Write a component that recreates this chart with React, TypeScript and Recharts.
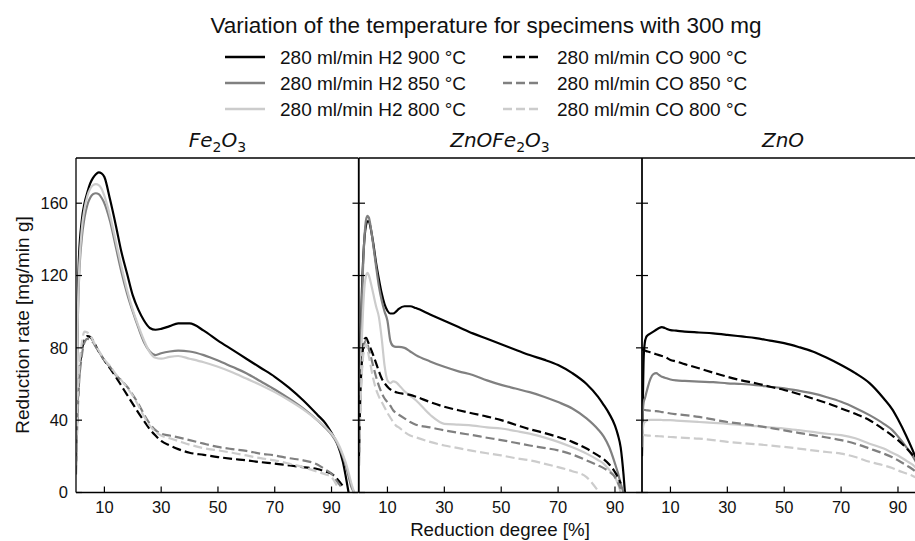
import { LineChart, Line, XAxis, YAxis } from "recharts";

const TITLE = "Variation of the temperature for specimens with 300 mg";
const X_LABEL = "Reduction degree [%]";
const Y_LABEL = "Reduction rate [mg/min g]";
const X_TICKS = [10, 30, 50, 70, 90];
const Y_TICKS = [0, 40, 80, 120, 160];
const X_DOMAIN = [0, 99.5];
const Y_DOMAIN = [0, 185];

const SERIES_KEYS = ["h900", "h850", "h800", "c900", "c850", "c800"];
const SERIES_NAMES = [
  "280 ml/min H2 900 °C",
  "280 ml/min H2 850 °C",
  "280 ml/min H2 800 °C",
  "280 ml/min CO 900 °C",
  "280 ml/min CO 850 °C",
  "280 ml/min CO 800 °C",
];

// panel titles, odd entries are subscripts
const PANEL_TITLES = [["Fe", "2", "O", "3"], ["ZnOFe", "2", "O", "3"], ["ZnO"]];

// ---- Fe2O3 ----
const FE_X = [
  0, 0.5, 1, 2, 3, 4, 5, 6, 7, 8,
  9, 10, 12, 14, 16, 18, 20, 22, 24, 26,
  28, 30, 33, 36, 40, 45, 50, 55, 60, 65,
  70, 75, 80, 85, 88, 90, 92, 94, 95, 96,
  97, 98,
];
const FE_H2_900 = [
  30, 95, 128, 150, 160, 166, 171, 174, 176, 177,
  176.5, 174.5, 162, 148, 133, 121, 109, 101, 95, 91,
  90, 90.5, 92, 93.5, 93.5, 89.5, 84, 79, 74, 69,
  64, 58, 51, 43, 38, 33, 27, 17, 9, 0,
  null, null,
];
const FE_H2_850 = [
  25, 85, 115, 140, 152, 159, 163, 165, 165.5, 165,
  163, 160, 150, 136, 122, 110, 100, 91, 83, 78,
  76, 77, 78, 78.5, 78, 76, 73, 69.5, 66, 61.5,
  57, 52, 46.5, 40, 35.5, 32, 27, 20, 15, 9,
  3, 0,
];
const FE_H2_800 = [
  25, 88, 118, 145, 157, 164, 168, 170, 170.5, 170,
  168, 164, 153, 139, 125, 112, 101, 92, 84, 77.5,
  74.5, 74, 75, 75.5, 74, 72, 69.5, 66.5, 63, 59.5,
  55.5, 51, 46, 40, 36, 32.5, 28, 21, 16.5, 11,
  5, 0,
];
const FE_CO_900 = [
  15, 45, 62, 78, 84.5, 86.5, 86, 84, 81, 78,
  75.5, 73, 68.7, 64, 59, 54, 49, 44, 39.5, 35,
  31.5, 28.5, 26, 24, 22, 20.8, 19.6, 18.6, 17.8, 16.8,
  16, 15, 14, 13, 11.5, 10.4, 7.5, 3.5, null, null,
  null, null,
];
const FE_CO_850 = [
  10, 40, 58, 75, 83, 85, 84.5, 83, 80.5, 78,
  75.5, 73, 69.5, 65, 62, 58.5, 54, 49, 43, 38,
  34.5, 32.5, 31.5, 30.5, 29, 27, 25.2, 24, 23, 21.5,
  20.5, 19, 17.8, 15.5, 12.5, 10.4, 6, 2, null, null,
  null, null,
];
const FE_CO_800 = [
  15, 48, 66, 82, 89, 88.5, 87, 84, 81, 78.5,
  76, 73.5, 70, 65.5, 62, 58, 53.5, 48, 42, 37,
  33.5, 31.5, 30, 28.5, 26.5, 24.5, 23.3, 22, 20.5, 19,
  17.8, 16, 14, 11.5, 10, 8.5, 3.5, null, null, null,
  null, null,
];

// ---- ZnOFe2O3 ----
const MID_X = [
  0, 0.5, 1, 1.5, 2, 2.5, 3, 3.5, 4, 5,
  6, 7, 8, 9, 10, 11, 12, 13, 14, 16,
  18, 20, 25, 30, 35, 40, 45, 50, 55, 60,
  65, 70, 75, 80, 84, 86, 88, 90, 91, 92,
  93, 93.5,
];
const MID_H2_900 = [
  30, 80, 110, 130, 142, 148, 150, 150, 147, 138,
  127, 118, 110, 104, 100.5, 99, 99, 100, 101.5, 103,
  103, 102, 98.5, 95, 91.5, 88, 85, 82, 79, 76,
  73.5, 70.5, 66, 60, 53, 48.5, 43.5, 37, 32, 25,
  10, 0,
];
const MID_H2_850 = [
  25, 75, 105, 128, 143, 151, 153, 152, 148, 137,
  125, 114, 106, 100, 95, 84, 81, 80.5, 80.5, 80,
  78, 76, 72.5, 69.5, 67, 65, 62, 59.5, 57.5, 55.5,
  53, 50, 46.5, 41, 35, 31, 25, 16, 11, 5,
  0, null,
];
const MID_H2_800 = [
  20, 60, 85, 103, 115, 120, 121.5, 120, 117, 110,
  103, 97, 85, 70, 62, 60.5, 61.5, 61, 59.5, 56,
  53.5, 51, 43, 38, 37.5, 37, 36, 35.4, 34, 32.6,
  30.5, 28, 25, 21.5, 18, 16, 12.5, 8.5, 5, 0,
  null, null,
];
const MID_CO_900 = [
  20, 55, 72, 81, 85, 85.5, 84, 82, 80, 76,
  71.5, 67, 63, 60.5, 58.5, 57, 56, 55.5, 55, 54.5,
  54, 53, 50, 47.4, 45.5, 43.7, 42, 40, 37.5, 35,
  33, 30.7, 28, 24.3, 20.5, 18.5, 15.5, 11.3, 8.5, 5,
  null, null,
];
const MID_CO_850 = [
  15, 50, 68, 78, 83, 84, 82, 79, 76, 70,
  64, 59, 55, 52, 50, 48, 45.5, 44, 43, 41,
  39, 37.5, 36, 34.4, 33, 31.7, 30.3, 29, 27.5, 26,
  24.7, 23.3, 21, 17.8, 15, 13.5, 11.5, 8.5, 5.5, 2,
  null, null,
];
const MID_CO_800 = [
  15, 48, 66, 76, 81, 82, 79, 75, 71, 63,
  57, 53, 50, 47, 44, 41.5, 39, 37, 36, 33.5,
  31.5, 30.5, 28, 26, 24.5, 23, 21.7, 20.5, 19, 17.8,
  16, 14, 11.8, 8.5, 1, null, null, null, null, null,
  null, null,
];

// ---- ZnO ----
const ZNO_X = [
  0, 0.3, 0.6, 1, 1.5, 2, 3, 4, 5, 6,
  7, 8, 10, 12, 15, 20, 25, 30, 35, 40,
  45, 50, 55, 60, 65, 70, 75, 80, 85, 88,
  90, 93, 95, 98,
];
const ZNO_H2_900 = [
  20, 50, 75, 83, 86, 87, 88, 89, 90, 91,
  91.5, 91, 89.8, 89.5, 89, 88.5, 88, 87.2, 86.3, 85.4,
  84, 82.6, 80.5, 78, 74.5, 70.5, 66, 60.5, 52, 46,
  40.5, 31, 24, 12,
];
const ZNO_H2_850 = [
  30, 45, 50, 52, 55, 58, 63, 65.5, 66, 65,
  64, 63.5, 62.5, 62, 61.7, 61.3, 61, 60.4, 60, 59.4,
  58.5, 57.6, 56.3, 54.8, 52.7, 50.2, 46.8, 42.8, 38, 34.5,
  31, 25, 20.5, 12,
];
const ZNO_H2_800 = [
  25, 35, 38, 39, 39.5, 40, 40.2, 40.2, 40.2, 40.2,
  40.1, 40, 40, 39.8, 39.5, 39, 38.5, 38, 37.3, 36.7,
  36, 35.4, 34.5, 33.5, 32.5, 31.7, 30, 27, 24.3, 22,
  20.5, 17.5, 15.5, 11,
];
const ZNO_CO_900 = [
  79, 79, 78.8, 78.5, 78.2, 78, 77.5, 77, 76.5, 76,
  75.5, 75, 73.3, 72.5, 71, 68.7, 66.3, 64, 62, 60.4,
  58.5, 56.7, 54.5, 52, 49.5, 46.5, 43.5, 40, 34.8, 31.5,
  29, 24.5, 21, 15,
];
const ZNO_CO_850 = [
  46, 46, 45.8, 45.6, 45.5, 45.4, 45.2, 45, 45, 44.8,
  44.5, 44.3, 43.7, 43.3, 42.8, 41.8, 40.4, 39, 38, 37,
  35.7, 34.4, 33, 31.7, 30.4, 29, 27, 24.3, 21.5, 19.5,
  17.8, 15, 13, 9,
];
const ZNO_CO_800 = [
  32, 32, 31.9, 31.7, 31.6, 31.5, 31.4, 31.3, 31.2, 31.1,
  31, 30.9, 30.7, 30.5, 30.2, 29.8, 29, 28, 27.3, 26.7,
  26, 25.2, 24.3, 23.3, 22.4, 21.5, 19.6, 17, 15, 13.5,
  12.2, 10.5, 9.3, 7,
];

function buildRows(xs: number[], cols: (number | null)[][]) {
  return xs.map((x, i) => {
    const row: Record<string, number | null> = { x };
    SERIES_KEYS.forEach((k, j) => {
      row[k] = cols[j][i] ?? null;
    });
    return row;
  });
}

const PANELS = [
  buildRows(FE_X, [FE_H2_900, FE_H2_850, FE_H2_800, FE_CO_900, FE_CO_850, FE_CO_800]),
  buildRows(MID_X, [MID_H2_900, MID_H2_850, MID_H2_800, MID_CO_900, MID_CO_850, MID_CO_800]),
  buildRows(ZNO_X, [ZNO_H2_900, ZNO_H2_850, ZNO_H2_800, ZNO_CO_900, ZNO_CO_850, ZNO_CO_800]),
];

const COLORS = ["#000000", "#808080", "#cccccc", "#000000", "#808080", "#cccccc"];
const DASH = "9 4";
const FONT = "'Liberation Sans', Arial, sans-serif";
const SPINE = { stroke: "#000", strokeWidth: 1.3 };

// layout
const CHART_TOP = 150;
const TOP_AXIS_H = 8;
const PLOT_H = 334.5;
const CHART_H = 541 - CHART_TOP;
const XAXIS_H = CHART_H - TOP_AXIS_H - PLOT_H;
const PLOT_W = 283;
const PLOT_LEFTS = [76, 358.5, 641.5];
const RIGHT_AXIS_W = 8;

function BottomTick(props: any) {
  const { x, y, payload } = props;
  return (
    <g>
      <line x1={x} x2={x} y1={y} y2={y - 6} stroke="#000" strokeWidth={1.2} />
      <text x={x} y={y + 20.5} textAnchor="middle" fontSize={16.5} fontFamily={FONT} fill="#111">
        {payload.value}
      </text>
    </g>
  );
}

function LeftTick(props: any) {
  const { x, y, payload, withLabel } = props;
  return (
    <g>
      <line x1={x} x2={x + 6} y1={y} y2={y} stroke="#000" strokeWidth={1.2} />
      {withLabel && (
        <text x={x - 8} y={y} dy="0.36em" textAnchor="end" fontSize={16.5} fontFamily={FONT} fill="#111">
          {payload.value}
        </text>
      )}
    </g>
  );
}

function RightTick(props: any) {
  const { x, y } = props;
  return <line x1={x} x2={x - 6} y1={y} y2={y} stroke="#000" strokeWidth={1.2} />;
}

function Panel({ index }: { index: number }) {
  const first = index === 0;
  const yw = first ? 76 : 8;
  const plotW = first ? 282.5 : PLOT_W;
  const width = yw + plotW + RIGHT_AXIS_W;
  const left = PLOT_LEFTS[index] - yw;
  return (
    <div style={{ position: "absolute", left, top: CHART_TOP }}>
      <LineChart
        width={width}
        height={CHART_H}
        data={PANELS[index]}
        margin={{ top: 0, right: 0, bottom: 0, left: 0 }}
      >
        <XAxis
          xAxisId="b"
          dataKey="x"
          type="number"
          domain={X_DOMAIN}
          ticks={X_TICKS}
          interval={0}
          allowDataOverflow
          height={XAXIS_H}
          tickSize={0}
          tickMargin={0}
          tickLine={false}
          axisLine={SPINE}
          tick={(p: any) => <BottomTick {...p} />}
        />
        <XAxis
          xAxisId="t"
          orientation="top"
          dataKey="x"
          type="number"
          domain={X_DOMAIN}
          ticks={X_TICKS}
          allowDataOverflow
          height={TOP_AXIS_H}
          tick={false}
          tickLine={false}
          axisLine={SPINE}
        />
        <YAxis
          yAxisId="l"
          type="number"
          domain={Y_DOMAIN}
          ticks={Y_TICKS}
          interval={0}
          allowDataOverflow
          width={yw}
          tickSize={0}
          tickMargin={0}
          tickLine={false}
          axisLine={SPINE}
          tick={(p: any) => <LeftTick {...p} withLabel={first} />}
        />
        <YAxis
          yAxisId="r"
          orientation="right"
          type="number"
          domain={Y_DOMAIN}
          ticks={Y_TICKS}
          interval={0}
          allowDataOverflow
          width={RIGHT_AXIS_W}
          tickSize={0}
          tickMargin={0}
          tickLine={false}
          axisLine={SPINE}
          tick={(p: any) => <RightTick {...p} />}
        />
        {SERIES_KEYS.map((k, i) => (
          <Line
            key={k}
            xAxisId="b"
            yAxisId="l"
            dataKey={k}
            name={SERIES_NAMES[i]}
            type="monotone"
            stroke={COLORS[i]}
            strokeDasharray={i >= 3 ? DASH : undefined}
            strokeWidth={2.2}
            dot={false}
            activeDot={false}
            connectNulls
            isAnimationActive={false}
          />
        ))}
      </LineChart>
    </div>
  );
}

function PanelTitle({ parts, x }: { parts: string[]; x: number }) {
  return (
    <text x={x} y={147} textAnchor="middle" fontFamily="'DejaVu Sans', sans-serif" fontSize={20} fill="#111">
      {parts.map((p, i) =>
        i % 2 ? (
          <tspan key={i} fontSize={14} dy={4.5} fontStyle="normal">
            {p}
          </tspan>
        ) : (
          <tspan key={i} fontStyle="italic" dy={i ? -4.5 : 0}>
            {p}
          </tspan>
        )
      )}
    </text>
  );
}

const LEGEND_ROWS = [57, 83, 109];
const LEGEND_COLS = [
  { x1: 225, x2: 265, tx: 280 },
  { x1: 503, x2: 542, tx: 557 },
];

export default function App() {
  return (
    <div
      style={{
        position: "absolute",
        left: 0,
        top: 0,
        width: 915,
        height: 541,
        overflow: "hidden",
        background: "#fff",
      }}
    >
      {[0, 1, 2].map((i) => (
        <Panel key={i} index={i} />
      ))}
      <svg width={915} height={541} style={{ position: "absolute", left: 0, top: 0, pointerEvents: "none" }}>
        <text x={486} y={33} textAnchor="middle" fontFamily={FONT} fontSize={22.5} fill="#111">
          {TITLE}
        </text>
        {SERIES_NAMES.map((name, i) => {
          const col = LEGEND_COLS[Math.floor(i / 3)];
          const y = LEGEND_ROWS[i % 3];
          return (
            <g key={name}>
              <line
                x1={col.x1}
                x2={col.x2}
                y1={y}
                y2={y}
                stroke={COLORS[i]}
                strokeWidth={2.5}
                strokeDasharray={i >= 3 ? DASH : undefined}
              />
              <text x={col.tx} y={y + 6.8} fontFamily={FONT} fontSize={19} fill="#111">
                {name}
              </text>
            </g>
          );
        })}
        {PANEL_TITLES.map((parts, i) => (
          <PanelTitle key={i} parts={parts} x={PLOT_LEFTS[i] + PLOT_W / 2} />
        ))}
        <text x={500} y={536} textAnchor="middle" fontFamily={FONT} fontSize={18.7} fill="#111">
          {X_LABEL}
        </text>
        <text
          x={0}
          y={0}
          transform="translate(29,325) rotate(-90)"
          textAnchor="middle"
          fontFamily={FONT}
          fontSize={19}
          fill="#111"
        >
          {Y_LABEL}
        </text>
      </svg>
    </div>
  );
}
